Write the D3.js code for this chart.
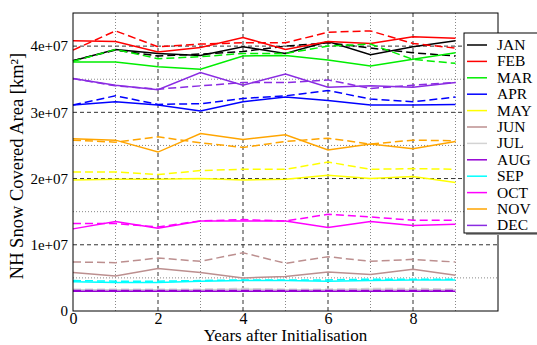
<!DOCTYPE html>
<html>
<head>
<meta charset="utf-8">
<script src="https://cdn.jsdelivr.net/npm/d3@7"></script>
<style>
  body { margin: 0; background: #fff; }
  svg text { font-family: "Liberation Serif", "Times New Roman", serif; }
</style>
</head>
<body>
<div id="chart"></div>
<script>
// Years after initialisation
const years = [0, 1, 2, 3, 4, 5, 6, 7, 8, 9];
const months = ['JAN', 'FEB', 'MAR', 'APR', 'MAY', 'JUN', 'JUL', 'AUG', 'SEP', 'OCT', 'NOV', 'DEC'];
const colors = ['#000000', '#ff0000', '#00ee00', '#0000ff', '#ffff00', '#bc8f8f',
  '#d3d3d3', '#9400d3', '#00ffff', '#ff00ff', '#ffa500', '#8a2be2'];

// snow covered area, units of 1e7 km2; solid = run, dashed = reference
const solidVals = [
  [3.78, 3.95, 3.89, 3.86, 3.99, 3.89, 4.07, 3.87, 3.99, 4.08],
  [4.08, 4.07, 3.91, 3.98, 4.13, 3.95, 4.07, 4.04, 4.14, 4.12],
  [3.76, 3.76, 3.69, 3.65, 3.85, 3.86, 3.79, 3.70, 3.80, 3.90],
  [3.11, 3.16, 3.11, 3.02, 3.16, 3.23, 3.18, 3.11, 3.11, 3.12],
  [1.98, 1.99, 1.99, 2.00, 1.98, 1.99, 2.05, 2.00, 2.03, 1.94],
  [0.58, 0.53, 0.64, 0.58, 0.50, 0.52, 0.59, 0.55, 0.63, 0.54],
  [0.32, 0.32, 0.32, 0.32, 0.33, 0.32, 0.32, 0.33, 0.32, 0.32],
  [0.30, 0.30, 0.30, 0.30, 0.30, 0.30, 0.30, 0.30, 0.30, 0.30],
  [0.44, 0.43, 0.43, 0.45, 0.46, 0.46, 0.45, 0.46, 0.47, 0.47],
  [1.24, 1.35, 1.25, 1.36, 1.36, 1.36, 1.26, 1.35, 1.29, 1.31],
  [2.60, 2.58, 2.40, 2.68, 2.59, 2.66, 2.43, 2.52, 2.45, 2.56],
  [3.51, 3.41, 3.34, 3.60, 3.41, 3.58, 3.38, 3.40, 3.38, 3.45]
];
const dashedVals = [
  [3.78, 3.94, 3.85, 3.88, 3.92, 4.00, 4.05, 3.97, 3.90, 3.85],
  [3.94, 4.23, 3.99, 4.03, 4.05, 4.05, 4.21, 4.23, 4.04, 3.97],
  [3.77, 3.95, 3.81, 3.84, 3.89, 3.89, 4.00, 4.03, 3.80, 3.74],
  [3.11, 3.25, 3.12, 3.13, 3.21, 3.25, 3.33, 3.20, 3.16, 3.23],
  [2.10, 2.10, 2.06, 2.12, 2.14, 2.14, 2.25, 2.14, 2.15, 2.14],
  [0.74, 0.73, 0.80, 0.75, 0.88, 0.72, 0.82, 0.75, 0.78, 0.74],
  [0.33, 0.33, 0.33, 0.33, 0.34, 0.33, 0.33, 0.34, 0.34, 0.33],
  [0.31, 0.31, 0.31, 0.31, 0.31, 0.31, 0.31, 0.31, 0.31, 0.31],
  [0.46, 0.45, 0.45, 0.46, 0.47, 0.47, 0.47, 0.48, 0.48, 0.48],
  [1.32, 1.32, 1.27, 1.36, 1.38, 1.36, 1.46, 1.42, 1.37, 1.37],
  [2.58, 2.55, 2.63, 2.54, 2.47, 2.56, 2.61, 2.52, 2.58, 2.57],
  [3.51, 3.40, 3.35, 3.40, 3.45, 3.45, 3.49, 3.36, 3.41, 3.45]
];

const xTicks = [0, 2, 4, 6, 8];
const yTicks = [0, 1e7, 2e7, 3e7, 4e7];
const yTickLabels = ['0', '1e+07', '2e+07', '3e+07', '4e+07'];
const xMinor = [1, 3, 5, 7, 9];
const yMinor = [0.5e7, 1.5e7, 2.5e7, 3.5e7];

const width = 537, height = 345;
const margin = { left: 73, top: 13, right: 39, bottom: 34 };
const iw = width - margin.left - margin.right;
const ih = height - margin.top - margin.bottom;

const svg = d3.select('#chart').append('svg')
  .attr('width', width)
  .attr('height', height);

const x = d3.scaleLinear().domain([0, 10]).range([0, iw]);
const y = d3.scaleLinear().domain([0, 4.5e7]).range([ih, 0]);

const g = svg.append('g').attr('transform', `translate(${margin.left},${margin.top})`);

// minor grid (dotted)
g.selectAll('.xminor').data(xMinor).enter().append('line')
  .attr('x1', d => x(d)).attr('x2', d => x(d))
  .attr('y1', 0).attr('y2', ih)
  .attr('stroke', '#888').attr('stroke-width', 1).attr('stroke-dasharray', '1,2');
g.selectAll('.yminor').data(yMinor).enter().append('line')
  .attr('x1', 0).attr('x2', iw)
  .attr('y1', d => y(d)).attr('y2', d => y(d))
  .attr('stroke', '#888').attr('stroke-width', 1).attr('stroke-dasharray', '1,2');

// major grid (dashed)
g.selectAll('.xmajor').data(xTicks.slice(1)).enter().append('line')
  .attr('x1', d => x(d)).attr('x2', d => x(d))
  .attr('y1', 0).attr('y2', ih)
  .attr('stroke', '#333').attr('stroke-width', 1).attr('stroke-dasharray', '4,3');
g.selectAll('.ymajor').data(yTicks.slice(1)).enter().append('line')
  .attr('x1', 0).attr('x2', iw)
  .attr('y1', d => y(d)).attr('y2', d => y(d))
  .attr('stroke', '#333').attr('stroke-width', 1).attr('stroke-dasharray', '4,3');

// lines
const line = d3.line()
  .x((d, i) => x(years[i]))
  .y(d => y(d * 1e7));

months.forEach((m, k) => {
  g.append('path')
    .attr('d', line(solidVals[k]))
    .attr('fill', 'none')
    .attr('stroke', colors[k])
    .attr('stroke-width', 1.5);
  g.append('path')
    .attr('d', line(dashedVals[k]))
    .attr('fill', 'none')
    .attr('stroke', colors[k])
    .attr('stroke-width', 1.5)
    .attr('stroke-dasharray', '8,4');
});

// frame
g.append('rect')
  .attr('width', iw).attr('height', ih)
  .attr('fill', 'none').attr('stroke', '#000').attr('stroke-width', 1);

// axes
const xAxis = d3.axisBottom(x).tickValues(xTicks).tickSize(0).tickPadding(2);
g.append('g').attr('transform', `translate(0,${ih})`).call(xAxis)
  .attr('font-family', null)
  .call(s => s.select('.domain').remove())
  .selectAll('text').attr('font-size', 16).attr('fill', '#000');

const yAxis = d3.axisLeft(y).tickValues(yTicks).tickSize(0).tickPadding(5)
  .tickFormat((d, i) => yTickLabels[i]);
g.append('g').call(yAxis)
  .attr('font-family', null)
  .call(s => s.select('.domain').remove())
  .selectAll('text').attr('font-size', 15).attr('fill', '#000');

// titles
svg.append('text')
  .attr('x', margin.left + x(5))
  .attr('y', 341)
  .attr('text-anchor', 'middle')
  .attr('font-size', 17)
  .text('Years after Initialisation');

svg.append('text')
  .attr('transform', `translate(23,${margin.top + ih / 2 + 4}) rotate(-90)`)
  .attr('text-anchor', 'middle')
  .attr('font-size', 18.5)
  .text('NH Snow Covered Area [km²]');

// legend
const lx = 464, ly = 33, lh = 200, lw = 80;
svg.append('rect')
  .attr('x', lx + 2).attr('y', ly + 2).attr('width', lw).attr('height', lh)
  .attr('fill', '#999');
svg.append('rect')
  .attr('x', lx).attr('y', ly).attr('width', lw).attr('height', lh)
  .attr('fill', '#fff').attr('stroke', '#000').attr('stroke-width', 1);

const leg = svg.selectAll('.leg').data(months).enter().append('g')
  .attr('transform', (d, i) => `translate(${lx},${ly + 12 + i * 16.4})`);
leg.append('line')
  .attr('x1', 3).attr('x2', 23)
  .attr('stroke', (d, i) => colors[i]).attr('stroke-width', 1.5);
leg.append('text')
  .attr('x', 33).attr('y', 5)
  .attr('font-size', 15.5)
  .text(d => d);
</script>
</body>
</html>
